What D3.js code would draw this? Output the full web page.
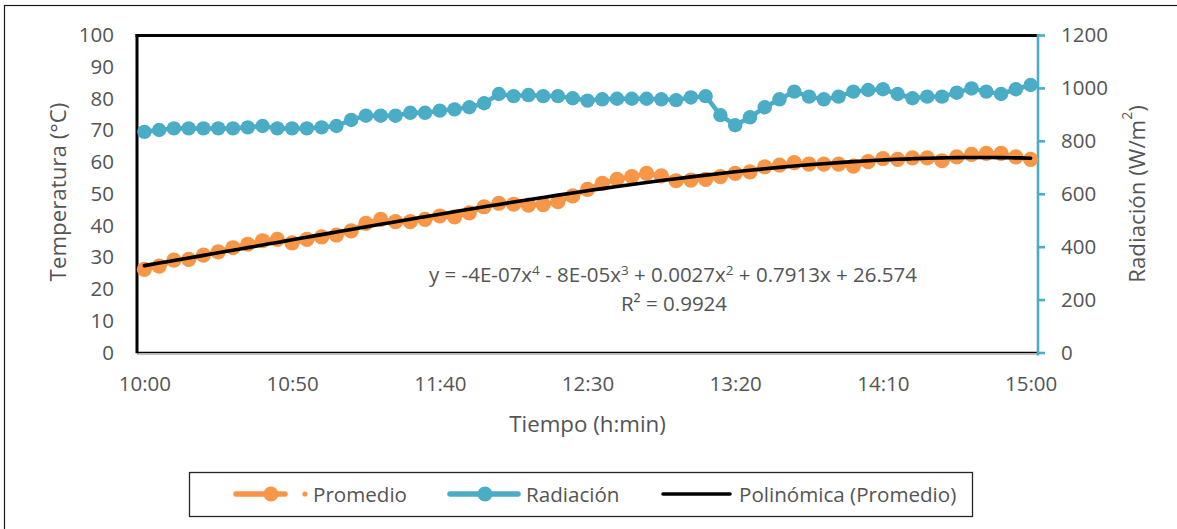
<!DOCTYPE html>
<html>
<head>
<meta charset="utf-8">
<script src="https://cdn.jsdelivr.net/npm/d3@7/dist/d3.min.js"></script>
<style>
  html, body { margin: 0; padding: 0; background: #fff; }
  svg { display: block; }
  text { font-family: "Open Sans", "Liberation Sans", sans-serif; fill: #545454; }
</style>
</head>
<body>
<svg id="chart" width="1177" height="529"></svg>
<script>
// Registro cada 5 minutos, 10:00 – 15:00
const times = [
  "10:00","10:05","10:10","10:15","10:20","10:25","10:30","10:35","10:40","10:45",
  "10:50","10:55","11:00","11:05","11:10","11:15","11:20","11:25","11:30","11:35",
  "11:40","11:45","11:50","11:55","12:00","12:05","12:10","12:15","12:20","12:25",
  "12:30","12:35","12:40","12:45","12:50","12:55","13:00","13:05","13:10","13:15",
  "13:20","13:25","13:30","13:35","13:40","13:45","13:50","13:55","14:00","14:05",
  "14:10","14:15","14:20","14:25","14:30","14:35","14:40","14:45","14:50","14:55",
  "15:00"
];

// Temperatura promedio (°C)
const promedio = [
  26.2, 27.2, 29.1, 29.3, 30.7, 31.7, 33.0, 34.1, 35.2, 35.6,
  34.5, 35.6, 36.4, 37.0, 38.3, 40.7, 41.9, 41.2, 41.2, 41.9,
  43.0, 42.7, 44.0, 45.9, 47.0, 46.7, 46.4, 46.6, 47.5, 49.3,
  51.4, 53.3, 54.5, 55.4, 56.4, 55.6, 54.1, 54.3, 54.5, 55.4,
  56.4, 56.9, 58.5, 59.0, 59.8, 59.3, 59.3, 59.3, 58.7, 60.1,
  61.1, 60.8, 61.3, 61.3, 60.4, 61.6, 62.4, 62.7, 62.7, 61.6,
  60.8
];

// Radiación solar (W/m²)
const radiacion = [
  834, 841, 847, 847, 847, 847, 847, 851, 856, 847,
  847, 847, 851, 856, 879, 895, 895, 895, 906, 906,
  914, 919, 927, 942, 977, 969, 973, 969, 969, 961,
  952, 957, 959, 959, 959, 957, 954, 964, 969, 897,
  859, 889, 927, 957, 986, 967, 957, 967, 986, 992,
  995, 977, 961, 967, 967, 982, 998, 986, 977, 995,
  1011
];

// Tendencia polinómica de grado 4 (coeficientes c0..c4, x = 1..n)
const trendCoef = [26.574, 0.7913, 0.0027, -8e-5, -4e-7];

const tempTicks = [0, 10, 20, 30, 40, 50, 60, 70, 80, 90, 100];
const radTicks = [0, 200, 400, 600, 800, 1000, 1200];
const timeTicks = ["10:00", "10:50", "11:40", "12:30", "13:20", "14:10", "15:00"];

const ORANGE = "#F79646", BLUE = "#4BACC6";
const TICK_FS = "20.5px", TITLE_FS = "22.3px", EQ_FS = "20.5px", LEG_FS = "20.6px";

const svg = d3.select("#chart");
const L = 137, R = 1038, T = 35, B = 352.5;

const x = d3.scalePoint().domain(times).range([L, R]).padding(0.5);
const yL = d3.scaleLinear().domain([0, 100]).range([B, T]);
const yR = d3.scaleLinear().domain([0, 1200]).range([B, T]);

// Marco exterior del gráfico
svg.append("rect")
  .attr("x", 4.5).attr("y", 5.5).attr("width", 1300).attr("height", 700)
  .attr("fill", "none").attr("stroke", "#1a1a1a").attr("stroke-width", 1.2);

// Eje X (línea gris)
svg.append("line")
  .attr("x1", L).attr("x2", R).attr("y1", 354.3).attr("y2", 354.3)
  .attr("stroke", "#bfbfbf").attr("stroke-width", 1.2);

// Borde del área de trazado
svg.append("line").attr("x1", L - 1.5).attr("x2", R).attr("y1", T + 0.5).attr("y2", T + 0.5)
  .attr("stroke", "#000").attr("stroke-width", 3);
svg.append("line").attr("x1", L).attr("x2", L).attr("y1", T - 1).attr("y2", B + 0.8)
  .attr("stroke", "#000").attr("stroke-width", 3);
svg.append("line").attr("x1", L).attr("x2", R).attr("y1", B).attr("y2", B)
  .attr("stroke", "#000").attr("stroke-width", 1.4);

// Eje izquierdo: temperatura
const axL = svg.append("g").attr("transform", `translate(${L},0)`)
  .call(d3.axisLeft(yL).tickValues(tempTicks).tickSize(0).tickPadding(23));
axL.select(".domain").remove();
axL.selectAll("text").style("font-size", TICK_FS);

// Eje derecho: radiación
const axR = svg.append("g").attr("transform", `translate(${R},0)`)
  .call(d3.axisRight(yR).tickValues(radTicks).tickFormat(d3.format("d"))
    .tickSize(7).tickSizeOuter(0).tickPadding(16));
axR.select(".domain").remove();
axR.selectAll(".tick line").attr("stroke", BLUE).attr("stroke-width", 2.6);
axR.selectAll("text").style("font-size", TICK_FS);
svg.append("line").attr("x1", R).attr("x2", R).attr("y1", T - 1).attr("y2", 355.5)
  .attr("stroke", BLUE).attr("stroke-width", 2.6);

// Eje inferior: tiempo
const axB = svg.append("g").attr("transform", `translate(0,354)`)
  .call(d3.axisBottom(x).tickValues(timeTicks).tickSize(0).tickPadding(22));
axB.select(".domain").remove();
axB.selectAll("text").style("font-size", TICK_FS);

// Títulos de ejes
svg.append("text")
  .attr("transform", `translate(57,192) rotate(-90)`)
  .attr("text-anchor", "middle").attr("dominant-baseline", "central")
  .style("font-size", TITLE_FS).text("Temperatura (°C)");

const radTitle = svg.append("text")
  .attr("transform", `translate(1136,194) rotate(-90)`)
  .attr("text-anchor", "middle").attr("dominant-baseline", "central")
  .style("font-size", TITLE_FS);
radTitle.append("tspan").text("Radiación (W/m");
radTitle.append("tspan").attr("baseline-shift", "super").style("font-size", "14px").text("2");
radTitle.append("tspan").text(")");

svg.append("text")
  .attr("x", (L + R) / 2).attr("y", 423)
  .attr("text-anchor", "middle").attr("dominant-baseline", "central")
  .style("font-size", TITLE_FS).text("Tiempo (h:min)");

// Serie: Promedio
const lineProm = d3.line().x((d, i) => x(times[i])).y(d => yL(d));
svg.append("path").datum(promedio)
  .attr("d", lineProm).attr("fill", "none")
  .attr("stroke", ORANGE).attr("stroke-width", 5).attr("stroke-linejoin", "round");
svg.append("g").selectAll("circle").data(promedio).join("circle")
  .attr("cx", (d, i) => x(times[i])).attr("cy", d => yL(d))
  .attr("r", 7.6).attr("fill", ORANGE);

// Serie: Radiación
const lineRad = d3.line().x((d, i) => x(times[i])).y(d => yR(d));
svg.append("path").datum(radiacion)
  .attr("d", lineRad).attr("fill", "none")
  .attr("stroke", BLUE).attr("stroke-width", 4.5).attr("stroke-linejoin", "round");
svg.append("g").selectAll("circle").data(radiacion).join("circle")
  .attr("cx", (d, i) => x(times[i])).attr("cy", d => yR(d))
  .attr("r", 7.2).attr("fill", BLUE);

// Línea de tendencia polinómica
const poly = n => trendCoef.reduce((s, c, k) => s + c * Math.pow(n, k), 0);
const trend = times.map((t, i) => ({ t, v: poly(i + 1) }));
svg.append("path").datum(trend)
  .attr("d", d3.line().x(d => x(d.t)).y(d => yL(d.v)).curve(d3.curveMonotoneX))
  .attr("fill", "none").attr("stroke", "#000").attr("stroke-width", 3.6)
  .attr("stroke-linecap", "round");

// Ecuación y R² (línea base explícita para que no se solapen)
const eq = svg.append("text")
  .attr("x", 673).attr("y", 282)
  .attr("text-anchor", "middle")
  .style("font-size", EQ_FS);
const sup = s => eq.append("tspan").attr("dy", "-7").style("font-size", "13.5px").text(s);
const base = s => eq.append("tspan").attr("dy", "7").text(s);
eq.append("tspan").text("y = -4E-07x"); sup("4");
base(" - 8E-05x"); sup("3");
base(" + 0.0027x"); sup("2");
base(" + 0.7913x + 26.574");

svg.append("text")
  .attr("x", 674).attr("y", 311)
  .attr("text-anchor", "middle")
  .style("font-size", EQ_FS).text("R² = 0.9924");

// Leyenda
const lg = svg.append("g");
lg.append("rect").attr("x", 189.5).attr("y", 472.5).attr("width", 783).attr("height", 44)
  .attr("fill", "#fff").attr("stroke", "#262626").attr("stroke-width", 1.3);
const ly = 494;
lg.append("line").attr("x1", 236).attr("x2", 285).attr("y1", ly).attr("y2", ly)
  .attr("stroke", ORANGE).attr("stroke-width", 5.5).attr("stroke-linecap", "round");
lg.append("circle").attr("cx", 271).attr("cy", ly).attr("r", 7.5).attr("fill", ORANGE);
lg.append("circle").attr("cx", 305).attr("cy", ly).attr("r", 2.6).attr("fill", ORANGE);
lg.append("text").attr("x", 313).attr("y", ly).attr("dominant-baseline", "central")
  .style("font-size", LEG_FS).text("Promedio");

lg.append("line").attr("x1", 450).attr("x2", 518).attr("y1", ly).attr("y2", ly)
  .attr("stroke", BLUE).attr("stroke-width", 5.5).attr("stroke-linecap", "round");
lg.append("circle").attr("cx", 485).attr("cy", ly).attr("r", 7.5).attr("fill", BLUE);
lg.append("text").attr("x", 526).attr("y", ly).attr("dominant-baseline", "central")
  .style("font-size", LEG_FS).text("Radiación");

lg.append("line").attr("x1", 663).attr("x2", 730).attr("y1", ly).attr("y2", ly)
  .attr("stroke", "#000").attr("stroke-width", 3.6).attr("stroke-linecap", "round");
lg.append("text").attr("x", 739).attr("y", ly).attr("dominant-baseline", "central")
  .style("font-size", LEG_FS).text("Polinómica (Promedio)");
</script>
</body>
</html>
